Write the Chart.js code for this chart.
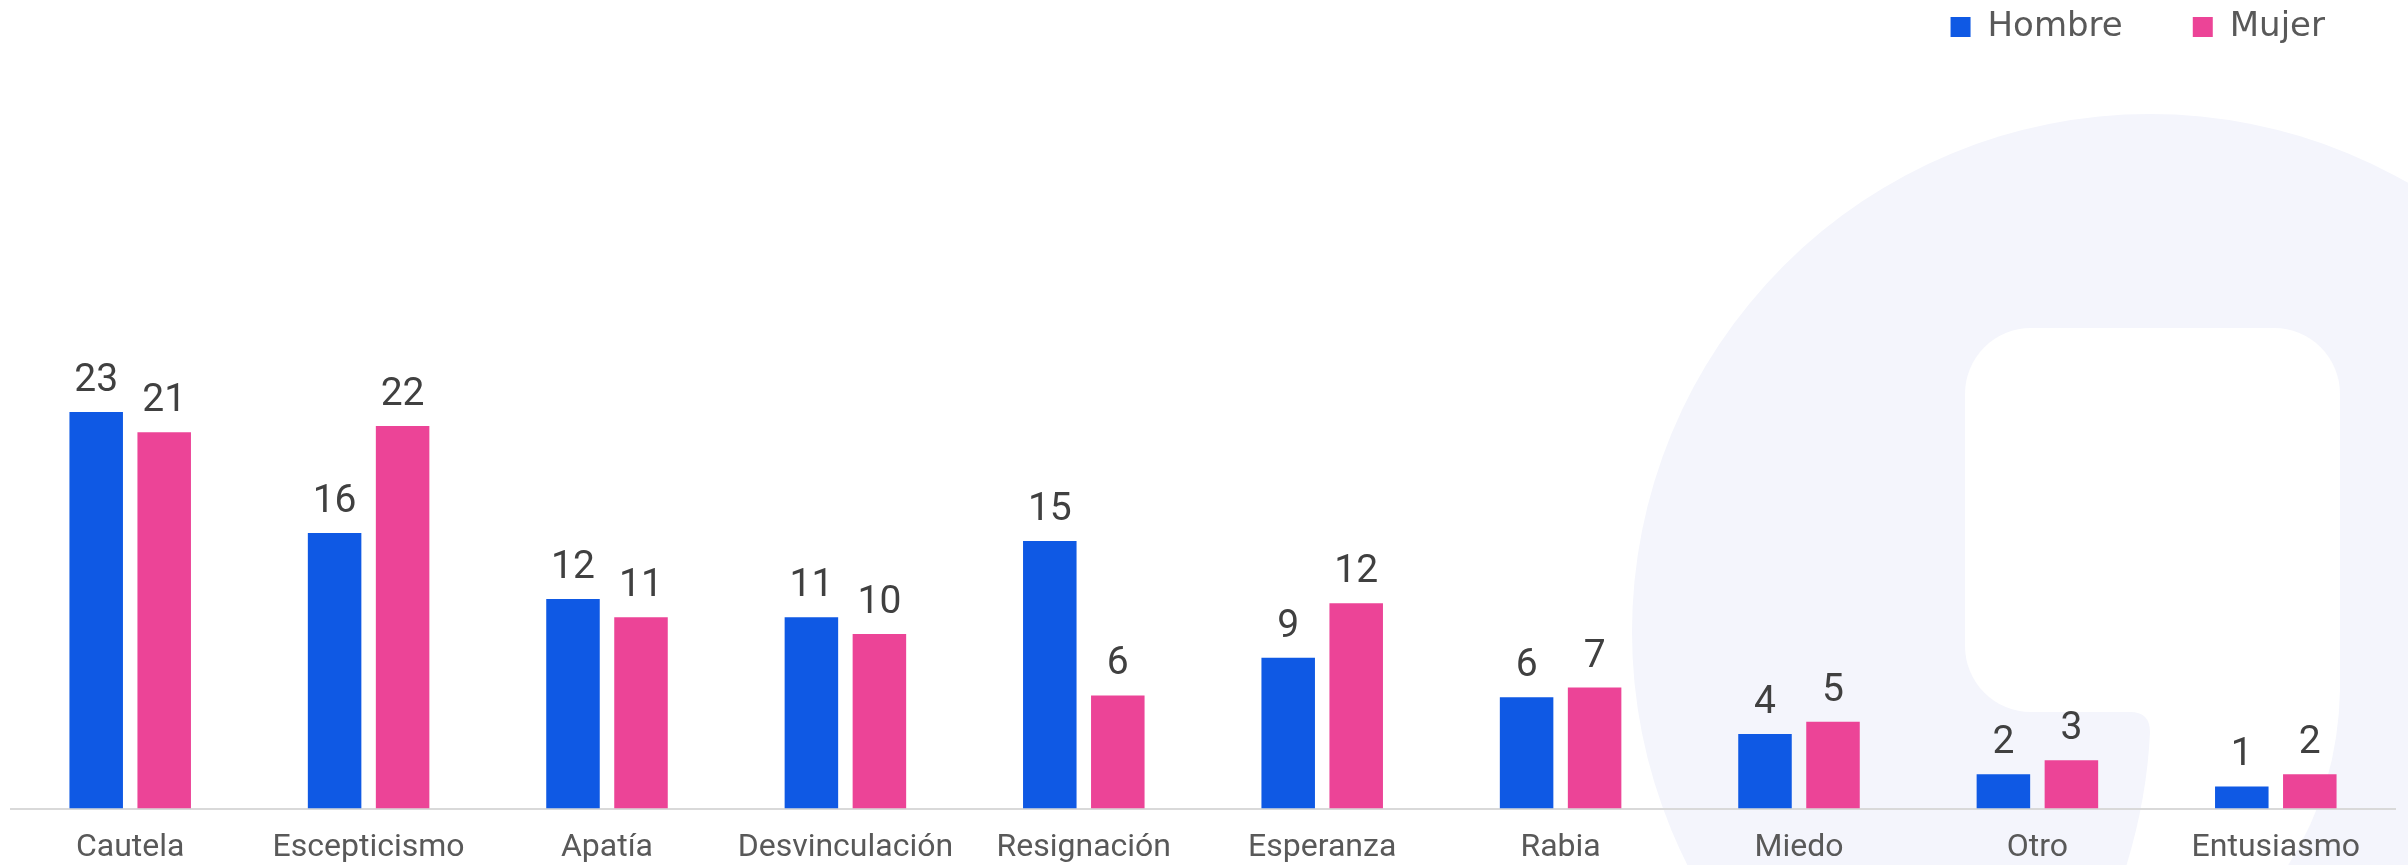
<!DOCTYPE html>
<html lang="es">
<head>
<meta charset="utf-8">
<title>Hombre / Mujer</title>
<script src="https://cdn.jsdelivr.net/npm/chart.js@4.4.1/dist/chart.umd.min.js"></script>
<style>
  html, body { margin: 0; padding: 0; background: #ffffff; }
  .chart-container { position: relative; width: 2408px; height: 865px; }
</style>
</head>
<body>
<div class="chart-container"><canvas id="chart"></canvas></div>
<script>
const categories = ['Cautela', 'Escepticismo', 'Apatía', 'Desvinculación', 'Resignación',
                    'Esperanza', 'Rabia', 'Miedo', 'Otro', 'Entusiasmo'];
const hombre = [22.6, 15.7, 11.95, 10.9, 15.25, 8.6, 6.35, 4.25, 1.96, 1.26];
const mujer = [21.45, 21.8, 10.9, 9.95, 6.45, 11.7, 6.9, 4.95, 2.76, 1.96];
const seriesNames = ['Hombre', 'Mujer'];

const BLUE = '#0f59e4';
const PINK = '#ec4497';

// light watermark behind the chart (circle with a rounded hole and stem)
const watermark = {
  id: 'watermark',
  beforeDraw(chart) {
    const ctx = chart.ctx;
    ctx.save();
    ctx.fillStyle = '#f4f5fc';
    ctx.beginPath();
    ctx.arc(2150, 632, 518, 0, Math.PI * 2);
    ctx.fill();

    ctx.fillStyle = '#ffffff';
    ctx.beginPath();
    ctx.roundRect(1965, 328, 375, 384, 66);
    ctx.fill();

    ctx.beginPath();
    ctx.moveTo(2130, 640);
    ctx.lineTo(2130, 712);
    ctx.quadraticCurveTo(2150, 712, 2150, 732);
    ctx.quadraticCurveTo(2147, 800, 2125, 870);
    ctx.lineTo(2285, 870);
    ctx.quadraticCurveTo(2338, 790, 2340, 690);
    ctx.lineTo(2340, 640);
    ctx.closePath();
    ctx.fill();
    ctx.restore();
  }
};

// rounded value above each bar
const valueLabels = {
  id: 'valueLabels',
  afterDatasetsDraw(chart) {
    const ctx = chart.ctx;
    ctx.save();
    ctx.font = '39px Roboto, sans-serif';
    ctx.fillStyle = '#404040';
    ctx.textAlign = 'center';
    ctx.textBaseline = 'alphabetic';
    chart.data.datasets.forEach((ds, i) => {
      chart.getDatasetMeta(i).data.forEach((bar, j) => {
        ctx.fillText(String(Math.round(ds.data[j])), bar.x, bar.y - 21);
      });
    });
    ctx.restore();
  }
};

new Chart(document.getElementById('chart'), {
  type: 'bar',
  data: {
    labels: categories,
    datasets: [
      { label: seriesNames[0], data: hombre, backgroundColor: BLUE },
      { label: seriesNames[1], data: mujer, backgroundColor: PINK }
    ]
  },
  options: {
    responsive: true,
    maintainAspectRatio: false,
    devicePixelRatio: 1,
    animation: false,
    categoryPercentage: 0.5705,
    barPercentage: 0.787,
    layout: {
      padding: { top: -60, left: 11, right: 13, bottom: -22 }
    },
    plugins: {
      legend: {
        display: true,
        position: 'top',
        align: 'end',
        labels: {
          boxWidth: 20,
          boxHeight: 20,
          padding: 70,
          color: '#595959',
          font: { family: "'DejaVu Sans', sans-serif", size: 34 }
        }
      },
      tooltip: { enabled: false }
    },
    scales: {
      x: {
        grid: { display: false, drawTicks: false },
        border: { display: true, color: '#d9d9d9', width: 2 },
        ticks: {
          color: '#595959',
          padding: 20,
          maxRotation: 0,
          autoSkip: false,
          font: { family: 'Roboto, sans-serif', size: 32 }
        }
      },
      y: {
        display: false,
        min: 0,
        max: 43
      }
    }
  },
  plugins: [watermark, valueLabels]
});
</script>
</body>
</html>
